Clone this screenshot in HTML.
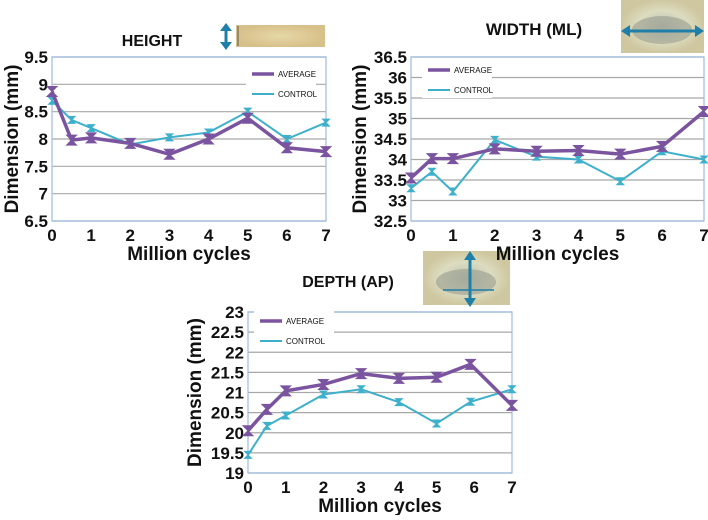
<!DOCTYPE html>
<html><head><meta charset="utf-8"><style>
body{margin:0;background:#fff;}
svg text{font-family:"Liberation Sans",sans-serif;}
</style></head><body>
<svg id="s" width="708" height="515" xmlns="http://www.w3.org/2000/svg">
<defs>
<radialGradient id="g1"><stop offset="0" stop-color="#b8bfae"/><stop offset="0.6" stop-color="#dcdcc0"/><stop offset="1" stop-color="#cfc7a0"/></radialGradient>
<radialGradient id="g2"><stop offset="0" stop-color="#e6d8a8"/><stop offset="1" stop-color="#d8c08a"/></radialGradient>
</defs>
<g>
<rect x="236" y="25" width="89" height="22" fill="url(#g2)"/>
<line x1="238" y1="26" x2="238" y2="46" stroke="#555" stroke-width="1"/>
<line x1="226" y1="25" x2="226" y2="48" stroke="#1f7fa8" stroke-width="3"/>
<path d="M220,31 L226,23 L232,31 Z M220,42 L226,50 L232,42 Z" fill="#1f7fa8"/>
</g>
<g>
<rect x="621" y="0" width="83" height="53" fill="url(#g1)"/>
<ellipse cx="662" cy="30" rx="30" ry="14" fill="#9a9c90" opacity="0.6"/>
<line x1="628" y1="31" x2="698" y2="31" stroke="#1f7fa8" stroke-width="3"/>
<path d="M621,31 L630,25 L630,37 Z M704,31 L695,25 L695,37 Z" fill="#1f7fa8"/>
</g>
<g>
<rect x="423" y="251" width="87" height="54" fill="url(#g1)"/>
<ellipse cx="466" cy="282" rx="30" ry="13" fill="#9a9c90" opacity="0.6"/>
<line x1="443" y1="290" x2="494" y2="290" stroke="#1f7fa8" stroke-width="1.5"/>
<line x1="470" y1="256" x2="470" y2="302" stroke="#1f7fa8" stroke-width="3"/>
<path d="M464,260 L470,251 L476,260 Z M464,298 L470,307 L476,298 Z" fill="#1f7fa8"/>
</g>
</svg>
<script>
var xCats=[0,0.5,1,2,3,4,5,6,7];
var xCatsDepth=[0,0.5,1,2,3,4,5,5.9,7];
var heightAvg=[8.87,7.98,8.02,7.92,7.72,8.0,8.38,7.84,7.77];
var heightCtl=[8.7,8.35,8.2,7.9,8.03,8.12,8.5,8.0,8.3];
var widthAvg=[33.55,34.02,34.02,34.26,34.2,34.22,34.13,34.32,35.17];
var widthCtl=[33.3,33.7,33.22,34.48,34.07,34.0,33.47,34.2,34.0];
var depthAvg=[20.05,20.58,21.04,21.2,21.47,21.35,21.38,21.7,20.68];
var depthCtl=[19.45,20.17,20.43,20.95,21.08,20.76,20.23,20.77,21.08];
var heightTicks=["6.5","7","7.5","8","8.5","9","9.5"];
var widthTicks=["32.5","33","33.5","34","34.5","35","35.5","36","36.5"];
var depthTicks=["19","19.5","20","20.5","21","21.5","22","22.5","23"];
var xTicks=["0","1","2","3","4","5","6","7"];
var NS="http://www.w3.org/2000/svg",S=document.getElementById('s');
function mk(t,a,p){var e=document.createElementNS(NS,t);for(var k in a)e.setAttribute(k,a[k]);(p||S).appendChild(e);return e;}
function tx(p,x,y,s,sz,anc,w,name,rot){var e=mk('text',{x:x,y:y,'font-size':sz,'text-anchor':anc,'font-weight':w,fill:'#111'},p);if(rot)e.setAttribute('transform','rotate(-90 '+x+' '+y+')');e.textContent=s;

return e;}
function chart(o){
var g=mk('g',{});


var ymin=+o.ticks[0],ymax=+o.ticks[o.ticks.length-1];
function X(v){return o.l+(o.r-o.l)*v/7;}
function Y(v){return o.b-(o.b-o.t)*(v-ymin)/(ymax-ymin);}
o.ticks.forEach(function(t){var y=Y(+t);
var ln=mk('line',{x1:o.l,x2:o.r,y1:y,y2:y,stroke:'#a8a8a8','stroke-width':1.2},g);


tx(g,o.l-4,y+6,t,17,'end','bold','y-tick-label');});
var bx=mk('rect',{x:o.l,y:o.t,width:o.r-o.l,height:o.b-o.t,fill:'none',stroke:'#9dbbe0','stroke-width':1.2},g);


xTicks.forEach(function(t){tx(g,X(+t),o.b+20,t,17,'middle','bold','x-tick-label');});
tx(g,(o.l+o.r)/2,o.b+39,'Million cycles',19,'middle','bold','x-axis-title');
tx(g,o.yl,(o.t+o.b)/2,'Dimension (mm)',19,'middle','bold','y-axis-title',true);
tx(g,o.tx,o.ty,o.title,o.ts,'middle','bold','chart-title');
function series(vals,xs,col,w,name){
var d=vals.map(function(v,i){return (i?'L':'M')+X(xs[i])+','+Y(v);}).join(' ');
var p=mk('path',{d:d,fill:'none',stroke:col,'stroke-width':w},g);


vals.forEach(function(v,i){var x=X(xs[i]),y=Y(v),s=w+1.5;
var m=mk('path',{d:'M'+(x-s)+','+(y-s)+' L'+(x+s)+','+(y-s)+' L'+(x-s)+','+(y+s)+' L'+(x+s)+','+(y+s)+' Z',fill:col,stroke:col,'stroke-width':1},g);

});
}
series(o.ctl,o.xs,'#3fb0cc',2,'control');
series(o.avg,o.xs,'#7b54a0',3.5,'average');
var lg=mk('g',{},g);


mk('rect',{x:o.lx-6,y:o.ly-12,width:o.lw,height:40,fill:'#fff'},lg);
mk('line',{x1:o.lx,x2:o.lx+22,y1:o.ly,y2:o.ly,stroke:'#7b54a0','stroke-width':3.5},lg);
mk('line',{x1:o.lx,x2:o.lx+22,y1:o.ly+20,y2:o.ly+20,stroke:'#3fb0cc','stroke-width':2},lg);
tx(lg,o.lx+26,o.ly+3,'AVERAGE',8,'start','normal','legend-average');
tx(lg,o.lx+26,o.ly+23,'CONTROL',8,'start','normal','legend-control');
}
chart({name:'height-chart',l:52,r:326,t:57,b:221,ticks:heightTicks,avg:heightAvg,ctl:heightCtl,xs:xCats,yl:18,title:'HEIGHT',ts:16,tx:152,ty:46,lx:252,ly:74,lw:70});
chart({name:'width-chart',l:411,r:704,t:57,b:221,ticks:widthTicks,avg:widthAvg,ctl:widthCtl,xs:xCats,yl:366,title:'WIDTH (ML)',ts:17,tx:534,ty:35,lx:428,ly:70,lw:70});
chart({name:'depth-chart',l:248,r:512,t:312,b:473,ticks:depthTicks,avg:depthAvg,ctl:depthCtl,xs:xCatsDepth,yl:201,title:'DEPTH (AP)',ts:16,tx:348,ty:287,lx:260,ly:321,lw:80});
</script>
</body></html>
